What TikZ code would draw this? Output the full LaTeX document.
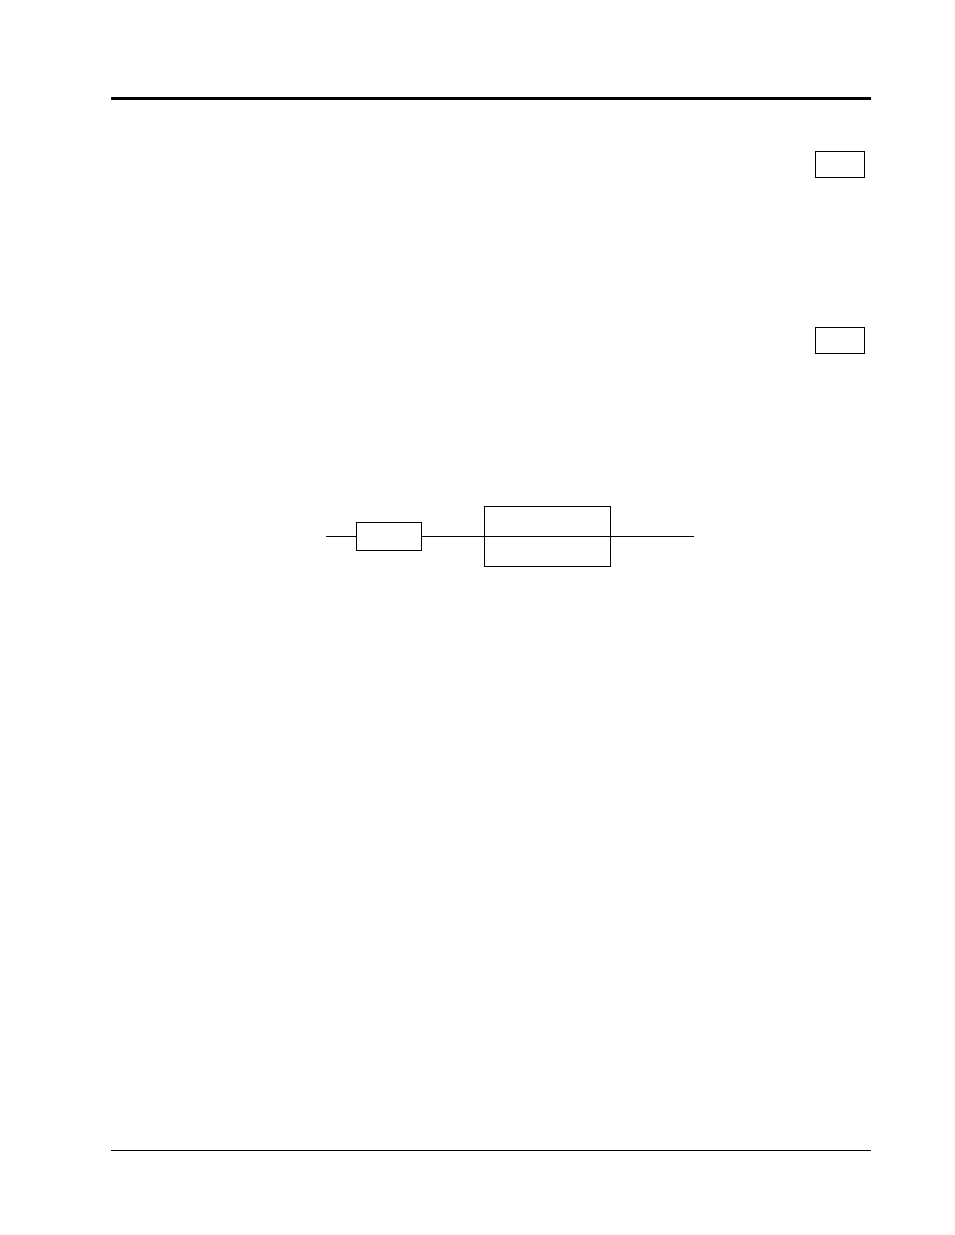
\documentclass[tikz,border=0pt]{standalone}
\usepackage{tikz}

\begin{document}
\begin{tikzpicture}
  [x=1pt,y=-1pt,line width=1pt,every node/.style={draw,inner sep=0pt,line width=1pt}]
  \useasboundingbox (0,0) rectangle (954,1235);

  % page rules
  \draw[line width=3pt] (111,98) -- (871,98);
  \draw (111,1150) -- (871,1150);

  % margin boxes
  \node[minimum width=49pt,minimum height=26pt] (m1) at (839.5,164) {};
  \node[minimum width=49pt,minimum height=26pt] (m2) at (839.5,340) {};

  % chain
  \coordinate (lead) at (326,536.3);
  \coordinate (tail) at (693.5,536.3);
  \node[minimum width=65pt,minimum height=28pt] (small) at (388.8,536.3) {};
  \node[minimum width=126pt,minimum height=60pt] (big) at (547.3,536.3) {};

  \foreach \from/\to in {lead/small.west,small.east/big.west,big.west/big.east,big.east/tail}
    \draw (\from) -- (\to);

\end{tikzpicture}
\end{document}
